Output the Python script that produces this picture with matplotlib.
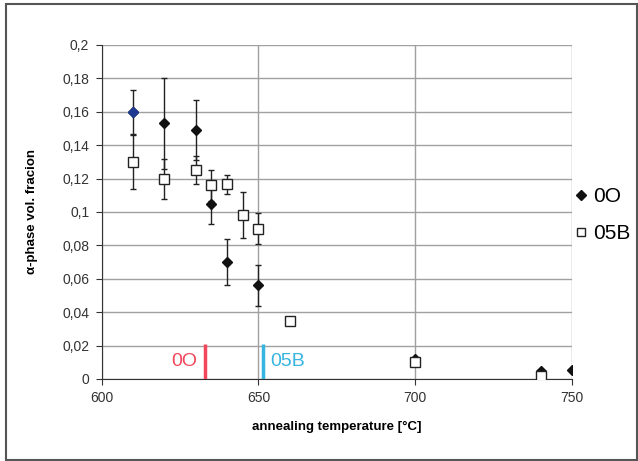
import matplotlib.pyplot as plt
from matplotlib.patches import Rectangle
from matplotlib.ticker import FuncFormatter

plt.rcParams['font.family'] = ['Liberation Sans', 'DejaVu Sans']

# series 0O (filled diamonds)
temp_0o = [610, 620, 630, 635, 640, 650, 700, 740, 750]
frac_0o = [0.160, 0.153, 0.149, 0.105, 0.070, 0.056, 0.012, 0.005, 0.0055]
err_0o = [0.013, 0.027, 0.018, 0.012, 0.014, 0.0125, 0, 0, 0]

# series 05B (open squares)
temp_05b = [610, 620, 630, 635, 640, 645, 650, 660, 700, 740]
frac_05b = [0.130, 0.120, 0.125, 0.116, 0.1165, 0.098, 0.090, 0.035, 0.010, 0.002]
err_05b = [0.016, 0.012, 0.0085, 0.0093, 0.0055, 0.0137, 0.0092, 0, 0, 0]

# transition markers
mark_labels = ['0O', '05B']
mark_temps = [633, 651.5]
mark_colors = ['#f2475a', '#35b5e0']

fig = plt.figure(figsize=(6.38, 4.61), dpi=100)
ax = fig.add_axes([0.1594, 0.1779, 0.8966 - 0.1594, 0.9024 - 0.1779])

ax.errorbar(temp_0o, frac_0o, yerr=err_0o, fmt='none', ecolor='#222222',
            elinewidth=1, capsize=2.5, capthick=1, zorder=3)
ax.errorbar(temp_05b, frac_05b, yerr=err_05b, fmt='none', ecolor='#222222',
            elinewidth=1, capsize=2.5, capthick=1, zorder=3)
ax.plot(temp_0o, frac_0o, 'D', color='#111111', markersize=5, zorder=4,
        linestyle='none', label='0O')
ax.plot(temp_0o[0], frac_0o[0], 'D', color='#1f3a93', markersize=5, zorder=5)
ax.plot(temp_05b, frac_05b, 's', markerfacecolor='white', markeredgecolor='#222222',
        markersize=7, markeredgewidth=1, zorder=5, linestyle='none', label='05B')

for lab, t, c in zip(mark_labels, mark_temps, mark_colors):
    ax.plot([t, t], [0, 0.021], color=c, linewidth=2.5, zorder=6, solid_capstyle='butt')
ax.text(mark_temps[0] - 2.5, 0.0105, mark_labels[0], color=mark_colors[0],
        fontsize=14, ha='right', va='center')
ax.text(mark_temps[1] + 2.2, 0.0105, mark_labels[1], color=mark_colors[1],
        fontsize=14, ha='left', va='center')

ax.set_xlim(600, 750)
ax.set_ylim(0, 0.2)
ax.set_xticks([600, 650, 700, 750])
ax.set_yticks([i * 0.02 for i in range(11)])
ax.yaxis.set_major_formatter(FuncFormatter(
    lambda v, p: '0' if abs(v) < 1e-9 else ('%g' % round(v, 2)).replace('.', ',')))
ax.grid(True, color='#a0a0a0', linewidth=1)
ax.set_axisbelow(True)
for s in ['top', 'right']:
    ax.spines[s].set_visible(False)
for s in ['left', 'bottom']:
    ax.spines[s].set_color('#333333')
ax.tick_params(length=4, color='#333333', labelsize=10, labelcolor='#333333', pad=5)

ax.set_xlabel('annealing temperature [°C]', fontsize=9.5, fontweight='bold', labelpad=11)
ax.set_ylabel('α-phase vol. fracion', fontsize=9.5, fontweight='bold', labelpad=17)

leg = ax.legend(loc='center left', bbox_to_anchor=(1.0, 0.49), frameon=False,
                fontsize=15, handlelength=0.5, handletextpad=0.3, labelspacing=0.85,
                borderaxespad=0, borderpad=0.2)
leg.legend_handles[1].set_markersize(5.5)

fig.add_artist(Rectangle((0.009, 0.002), 0.99, 0.99, transform=fig.transFigure,
                         fill=False, edgecolor='#555555', linewidth=1.5))

fig.savefig('out.png', dpi=100)
